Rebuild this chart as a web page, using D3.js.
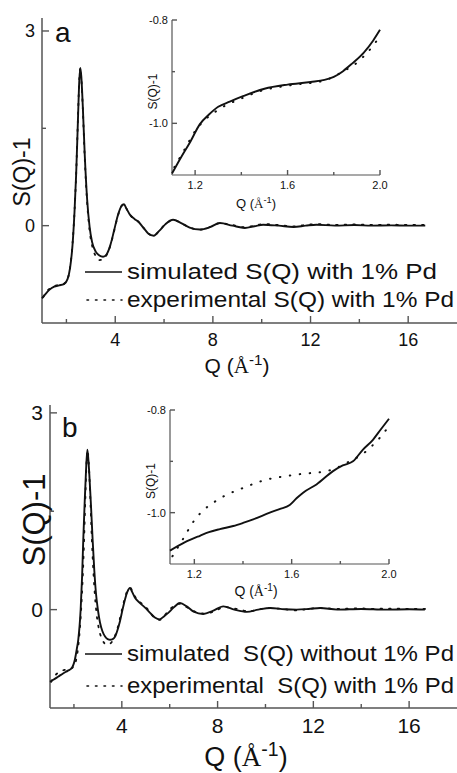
<!DOCTYPE html>
<html>
<head>
<meta charset="utf-8">
<title>S(Q)</title>
<script src="https://cdn.jsdelivr.net/npm/d3@7"></script>
<style>
  body { margin: 0; background: #fff; }
  text { font-family: "Liberation Sans", Arial, sans-serif; fill: #111; }
</style>
</head>
<body>
<div id="chart"></div>
<script>
// main curves, panel a (simulated with 1% Pd)
var simAq = [1.0, 1.15, 1.3, 1.5, 1.7, 1.9, 2.05, 2.15, 2.25, 2.33, 2.4, 2.47, 2.53, 2.57, 2.61, 2.67, 2.75, 2.85, 2.95, 3.05, 3.2, 3.35, 3.5, 3.65, 3.8, 3.95, 4.1, 4.25, 4.36, 4.45, 4.6, 4.8, 4.95, 5.15, 5.35, 5.58, 5.8, 6.05, 6.37, 6.7, 7.05, 7.47, 7.9, 8.29, 8.8, 9.31, 9.7, 10.06, 10.7, 11.3, 11.8, 12.24, 13.0, 13.8, 14.5, 15.3, 16.0, 16.7];
var simAs = [-1.12, -1.05, -0.99, -0.94, -0.92, -0.9, -0.82, -0.65, -0.3, 0.2, 0.8, 1.6, 2.25, 2.43, 2.3, 1.85, 1.1, 0.4, -0.02, -0.25, -0.4, -0.46, -0.48, -0.44, -0.3, -0.08, 0.15, 0.3, 0.33, 0.27, 0.17, 0.1, 0.06, -0.03, -0.12, -0.155, -0.08, 0.02, 0.09, 0.04, -0.03, -0.06, -0.02, 0.04, 0.0, -0.035, -0.01, 0.015, 0.0, -0.02, 0.0, 0.015, 0.0, 0.01, 0.0, 0.005, 0.0, 0.0];

// panel b (simulated without Pd)
var simBq = [1.0, 1.14, 1.35, 1.56, 1.75, 1.91, 2.04, 2.12, 2.18, 2.28, 2.34, 2.39, 2.45, 2.5, 2.56, 2.6, 2.64, 2.71, 2.78, 2.85, 2.92, 3.0, 3.09, 3.19, 3.3, 3.41, 3.51, 3.62, 3.72, 3.82, 3.92, 4.03, 4.13, 4.23, 4.34, 4.43, 4.55, 4.76, 4.97, 5.18, 5.38, 5.57, 5.77, 5.94, 6.16, 6.43, 6.71, 7.0, 7.4, 7.8, 8.24, 8.7, 9.22, 9.7, 10.2, 10.8, 11.3, 11.8, 12.28, 13.0, 14.0, 15.0, 16.0, 16.66];
var simBs = [-1.1, -1.07, -1.02, -0.97, -0.93, -0.89, -0.76, -0.6, -0.46, 0.0, 0.5, 1.07, 1.65, 2.08, 2.44, 2.3, 2.08, 1.6, 1.07, 0.6, 0.25, 0.0, -0.2, -0.33, -0.41, -0.45, -0.46, -0.45, -0.41, -0.31, -0.18, 0.0, 0.15, 0.27, 0.33, 0.27, 0.18, 0.1, 0.03, -0.05, -0.12, -0.15, -0.1, -0.05, 0.03, 0.1, 0.05, -0.03, -0.066, -0.02, 0.05, 0.0, -0.035, 0.0, 0.025, 0.005, 0.0, 0.01, 0.025, 0.0, 0.01, 0.0, 0.005, 0.0];

// experimental with 1% Pd (same in both panels)
var expQ = [1.05, 1.2, 1.4, 1.6, 1.8, 1.95, 2.07, 2.16, 2.25, 2.33, 2.4, 2.47, 2.53, 2.57, 2.61, 2.67, 2.75, 2.85, 2.95, 3.06, 3.2, 3.35, 3.5, 3.65, 3.8, 3.95, 4.1, 4.25, 4.36, 4.45, 4.6, 4.8, 4.95, 5.15, 5.35, 5.58, 5.8, 6.05, 6.37, 6.7, 7.05, 7.47, 7.9, 8.29, 8.8, 9.31, 9.7, 10.06, 10.7, 11.3, 11.8, 12.24, 13.0, 13.8, 14.5, 15.3, 16.0, 16.7];
var expS = [-1.1, -1.01, -0.95, -0.92, -0.91, -0.88, -0.8, -0.62, -0.28, 0.2, 0.8, 1.62, 2.27, 2.43, 2.28, 1.82, 1.05, 0.35, -0.08, -0.32, -0.47, -0.53, -0.52, -0.45, -0.31, -0.09, 0.14, 0.3, 0.33, 0.27, 0.17, 0.1, 0.06, -0.03, -0.12, -0.155, -0.08, 0.02, 0.09, 0.04, -0.03, -0.06, -0.02, 0.04, 0.01, -0.025, 0.0, 0.025, 0.01, -0.01, 0.01, 0.025, 0.012, 0.02, 0.012, 0.015, 0.01, 0.01];

// insets, Q from 1.1 to 2.0
var inAq = [1.10, 1.14, 1.18, 1.22, 1.26, 1.30, 1.35, 1.41, 1.50, 1.60, 1.70, 1.76, 1.80, 1.84, 1.88, 1.93, 1.97, 2.0];
var inAs = [-1.097, -1.065, -1.035, -1.002, -0.983, -0.968, -0.958, -0.947, -0.933, -0.925, -0.920, -0.916, -0.910, -0.899, -0.884, -0.863, -0.84, -0.819];
var inBq = [1.1, 1.16, 1.223, 1.26, 1.305, 1.36, 1.40, 1.442, 1.51, 1.55, 1.592, 1.62, 1.647, 1.702, 1.77, 1.81, 1.852, 1.893, 1.934, 1.966, 2.0];
var inBs = [-1.074, -1.058, -1.045, -1.038, -1.032, -1.026, -1.02, -1.013, -1.0, -0.993, -0.985, -0.972, -0.961, -0.945, -0.919, -0.908, -0.900, -0.877, -0.858, -0.838, -0.817];
var inEq = [1.11, 1.155, 1.2, 1.243, 1.286, 1.329, 1.373, 1.416, 1.459, 1.502, 1.546, 1.589, 1.632, 1.675, 1.719, 1.76, 1.798, 1.841, 1.885, 1.928, 1.968, 2.0];
var inEs = [-1.085, -1.05, -1.015, -0.993, -0.978, -0.966, -0.957, -0.949, -0.941, -0.935, -0.931, -0.928, -0.925, -0.923, -0.921, -0.917, -0.910, -0.899, -0.888, -0.871, -0.851, -0.831];

var xMajor = [4, 8, 12, 16], xMinor = [2, 6, 10, 14];
var yMajor = [3, 0], yMinor = [1.5];
var inXMajor = [1.2, 1.6, 2.0], inXMinor = [1.4, 1.8];
var inYMajor = [-0.8, -1.0], inYMinor = [-0.9];

var legendA = ["simulated S(Q) with 1% Pd", "experimental S(Q) with 1% Pd"];
var legendB = ["simulated  S(Q) without 1% Pd", "experimental  S(Q) with 1% Pd"];

var W = 457, H = 773;
var svg = d3.select('#chart').append('svg')
    .attr('width', W).attr('height', H);

function zip(q, s){ return q.map(function(d, i){ return [d, s[i]]; }); }

function qLabel(g, x, y, size){
  var t = g.append('text').attr('x', x).attr('y', y)
      .attr('text-anchor', 'middle').style('font-size', size + 'px');
  t.append('tspan').text('Q (');
  t.append('tspan').style('font-family', '"Liberation Serif", serif').text('Å');
  t.append('tspan').attr('dy', -size * 0.38).style('font-size', (size * 0.72) + 'px').text('-1');
  t.append('tspan').attr('dy', size * 0.38).text(')');
}

function ticks(g, scale, vals, len, horiz, pos){
  vals.forEach(function(v){
    var p = scale(v);
    g.append('line')
      .attr('x1', horiz ? p : pos).attr('x2', horiz ? p : pos + len)
      .attr('y1', horiz ? pos : p).attr('y2', horiz ? pos - len : p)
      .style('stroke', '#555').style('stroke-width', 1.4);
  });
}

function panel(c){
  var g = svg.append('g');
  var x = d3.scaleLinear().domain([1, 18]).range([c.left, W]);
  var y = d3.scaleLinear().domain([-1.5, c.ytop]).range([c.bottom, c.top]);

  g.append('line').attr('x1', c.left).attr('x2', c.left).attr('y1', c.top).attr('y2', c.bottom)
    .style('stroke', '#555').style('stroke-width', 1.5);
  g.append('line').attr('x1', c.left).attr('x2', W).attr('y1', c.bottom).attr('y2', c.bottom)
    .style('stroke', '#555').style('stroke-width', 1.5);
  ticks(g, x, xMajor, 7, true, c.bottom);
  ticks(g, x, xMinor, 4, true, c.bottom);
  ticks(g, y, yMajor, 7, false, c.left);
  ticks(g, y, yMinor, 4, false, c.left);

  xMajor.forEach(function(v){
    g.append('text').attr('x', x(v)).attr('y', c.xTickY).attr('text-anchor', 'middle')
      .style('font-size', c.tickFont + 'px').text(v);
  });
  yMajor.forEach(function(v){
    g.append('text').attr('x', c.left - 7).attr('y', y(v)).attr('dy', '0.36em').attr('text-anchor', 'end')
      .style('font-size', c.tickFont + 'px').text(v);
  });
  qLabel(g, c.xLabX, c.xLabY, c.xLabFont);
  g.append('text').attr('transform', 'translate(' + c.yLabX + ',' + c.yLabY + ') rotate(-90)')
    .attr('text-anchor', 'middle').style('font-size', c.yLabFont + 'px').text('S(Q)-1');
  g.append('text').attr('x', c.letterX).attr('y', c.letterY)
    .style('font-size', '28px').text(c.letter);

  var line = d3.line().x(function(d){ return x(d[0]); }).y(function(d){ return y(d[1]); })
      .curve(d3.curveMonotoneX);
  g.append('path').datum(zip(expQ, expS)).attr('d', line)
    .style('fill', 'none').style('stroke', '#111').style('stroke-width', 1.8)
    .style('stroke-dasharray', '1.6,7').style('stroke-linecap', 'round');
  g.append('path').datum(zip(c.simQ, c.simS)).attr('d', line)
    .style('fill', 'none').style('stroke', '#111').style('stroke-width', 1.9);

  // legend
  var lg = g.append('g');
  lg.append('line').attr('x1', c.legX - 42).attr('x2', c.legX - 5)
    .attr('y1', c.legY - 7).attr('y2', c.legY - 7).style('stroke', '#111').style('stroke-width', 1.6);
  lg.append('line').attr('x1', c.legX - 40).attr('x2', c.legX - 5)
    .attr('y1', c.legY + c.legGap - 7).attr('y2', c.legY + c.legGap - 7)
    .style('stroke', '#111').style('stroke-width', 1.6)
    .style('stroke-dasharray', '1.5,7').style('stroke-linecap', 'round');
  c.legend.forEach(function(t, i){
    lg.append('text').attr('x', c.legX).attr('y', c.legY + i * c.legGap)
      .attr('textLength', c.legW[i]).attr('lengthAdjust', 'spacingAndGlyphs')
      .style('font-size', c.legFont + 'px').style('white-space', 'pre').text(t);
  });

  // inset
  var ix = d3.scaleLinear().domain([1.1, 2.0]).range([c.in.l, c.in.r]);
  var iy = d3.scaleLinear().domain([-1.1, -0.8]).range([c.in.b, c.in.t]);
  var ig = g.append('g');
  ig.append('line').attr('x1', c.in.l).attr('x2', c.in.l).attr('y1', c.in.t).attr('y2', c.in.b)
    .style('stroke', '#555').style('stroke-width', 1.2);
  ig.append('line').attr('x1', c.in.l).attr('x2', c.in.r).attr('y1', c.in.b).attr('y2', c.in.b)
    .style('stroke', '#555').style('stroke-width', 1.2);
  ticks(ig, ix, inXMajor, 5, true, c.in.b);
  ticks(ig, ix, inXMinor, 3, true, c.in.b);
  ticks(ig, iy, inYMajor, 5, false, c.in.l);
  ticks(ig, iy, inYMinor, 3, false, c.in.l);
  inXMajor.forEach(function(v){
    ig.append('text').attr('x', ix(v)).attr('y', c.in.b + 14).attr('text-anchor', 'middle')
      .style('font-size', '11px').text(v.toFixed(1));
  });
  inYMajor.forEach(function(v){
    ig.append('text').attr('x', c.in.l - 4).attr('y', iy(v)).attr('dy', '0.36em').attr('text-anchor', 'end')
      .style('font-size', '11px').text(v.toFixed(1));
  });
  ig.append('text').attr('transform', 'translate(' + (c.in.l - 15) + ',' + ((c.in.t + c.in.b) / 2 - 6) + ') rotate(-90)')
    .attr('text-anchor', 'middle').style('font-size', '12px').text('S(Q)-1');
  qLabel(ig, c.in.labX, c.in.labY, c.in.labFont);

  var il = d3.line().x(function(d){ return ix(d[0]); }).y(function(d){ return iy(d[1]); })
      .curve(d3.curveMonotoneX);
  ig.append('path').datum(zip(inEq, inEs)).attr('d', il)
    .style('fill', 'none').style('stroke', '#111').style('stroke-width', 2)
    .style('stroke-dasharray', '0.5,9.5').style('stroke-linecap', 'round');
  ig.append('path').datum(zip(c.in.q, c.in.s)).attr('d', il)
    .style('fill', 'none').style('stroke', '#111').style('stroke-width', 1.9);
}

panel({
  left: 42, top: 18, bottom: 323, ytop: 3.2,
  simQ: simAq, simS: simAs,
  tickFont: 18, xTickY: 346, xLabX: 237, xLabY: 373, xLabFont: 21,
  yLabX: 30, yLabY: 172, yLabFont: 23,
  letter: 'a', letterX: 55, letterY: 42,
  legX: 127, legY: 279, legGap: 28, legFont: 22, legW: [310, 327], legend: legendA,
  in: { l: 172, r: 380, t: 20, b: 175, q: inAq, s: inAs, labX: 256, labY: 208, labFont: 13 }
});

panel({
  left: 50, top: 405, bottom: 708, ytop: 3.12,
  simQ: simBq, simS: simBs,
  tickFont: 21, xTickY: 733, xLabX: 246, xLabY: 766, xLabFont: 27,
  yLabX: 45, yLabY: 520, yLabFont: 31,
  letter: 'b', letterX: 62, letterY: 437,
  legX: 127, legY: 661, legGap: 32, legFont: 22, legW: [327, 327], legend: legendB,
  in: { l: 170, r: 389, t: 410, b: 564, q: inBq, s: inBs, labX: 256, labY: 596, labFont: 14 }
});
</script>
</body>
</html>
